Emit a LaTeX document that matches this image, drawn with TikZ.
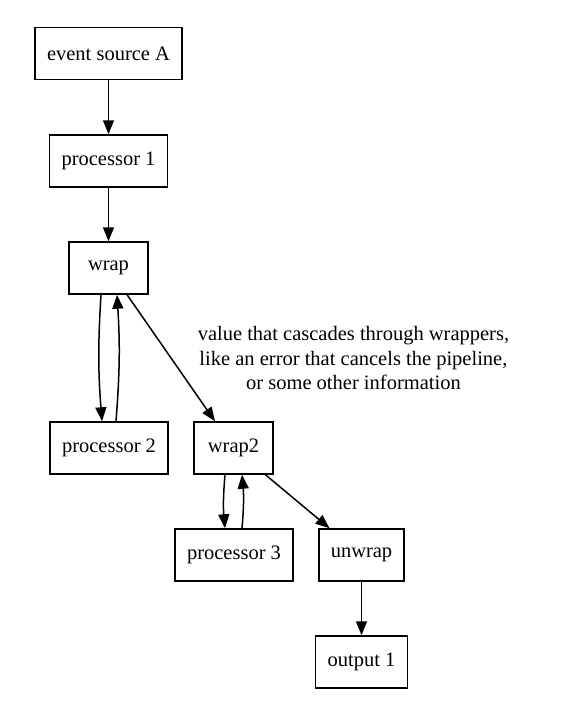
\documentclass[tikz,border=0pt]{standalone}
\usepackage{fontspec}
\setmainfont{Liberation Serif}
\usetikzlibrary{
  positioning,
  arrows.meta
}
\tikzset{
  >={Triangle[length=14pt, width=11pt]},
  n/.style = {
    rectangle, draw=black, line width=1.5pt,
    minimum height=52pt, minimum width=79pt, inner xsep=12pt,
    font=\fontsize{20.5}{24.5}\selectfont
  },
  lbl/.style = {
    align=center, inner sep=0pt,
    font=\fontsize{20.5}{24.5}\selectfont
  }
}
\begin{document}
\begin{tikzpicture}[x=1pt, y=-1pt, line width=1.5pt]
  \useasboundingbox (0,0) rectangle (578,723);
  \path
    (108.5,53.5) node [n] (src) {event source A}
    (108.5,161) node [n] (p1) {processor 1}
      edge [<-] (src)
    (108.5,268) node [n] (wrap) {wrap}
      edge [<-] (p1)
    (109,448) node [n] (p2) {processor 2}
    (233.5,448) node [n] (wrap2) {wrap2}
      edge [<-] node [lbl, right=26pt] {value that cascades through wrappers,\\
        like an error that cancels the pipeline,\\
        or some other information} (wrap)
    (234,555) node [n] (p3) {processor 3}
    (361.5,555) node [n] (unwrap) {unwrap}
      edge [<-] (wrap2)
    (361.5,662) node [n] (out1) {output 1}
      edge [<-] (unwrap)
    ([xshift=-7.5pt]wrap.south) edge [->, bend right=4] ([xshift=-7pt]p2.north)
    ([xshift=7pt]p2.north) edge [->, bend right=4] ([xshift=8.5pt]wrap.south)
    ([xshift=-8.5pt]wrap2.south) edge [->, bend right=5] ([xshift=-9pt]p3.north)
    ([xshift=8pt]p3.north) edge [->, bend right=5] ([xshift=8.5pt]wrap2.south);
\end{tikzpicture}
\end{document}
